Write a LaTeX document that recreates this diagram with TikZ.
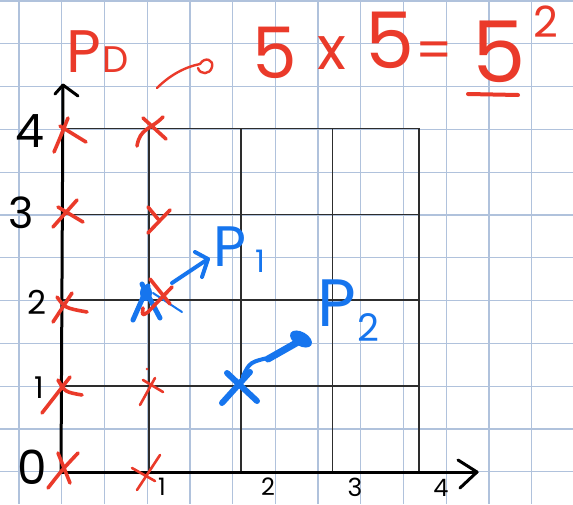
\documentclass[tikz,border=0pt]{standalone}
\usepackage{fontspec}
\setmainfont{Poppins}
\definecolor{pen}{RGB}{234,58,42}
\definecolor{ink}{RGB}{22,117,238}
\definecolor{paper}{RGB}{176,194,220}
\definecolor{frame}{RGB}{45,45,45}
\newcommand{\fsz}[1]{\fontsize{#1}{#1}\selectfont}
\begin{document}
\begin{tikzpicture}[x=1pt,y=-1pt,
  redmark/.style={draw=pen,line width=3.6pt,line cap=round,line join=round},
  thinred/.style={draw=pen,line width=2.6pt,line cap=round,line join=round},
  bluemark/.style={draw=ink,line width=5pt,line cap=round,line join=round},
  axisline/.style={draw=black,line width=3pt,line cap=round,line join=round},
  gridline/.style={draw=frame,line width=1.2pt},
  paperline/.style={draw=paper,line width=1.3pt},
  lbl/.style={inner sep=0pt,outer sep=0pt},
  axlbl/.style={lbl,text=black},
  redlbl/.style={lbl,text=pen},
  bluelbl/.style={lbl,text=ink}]
\fill[white] (0,0) rectangle (573,504);
\useasboundingbox (0,0) rectangle (573,504);
% squared paper
\foreach \k in {0,...,12} \draw[paperline] ({19+42.73*\k},0) -- ({19+42.73*\k},504);
\foreach \j in {0,...,11} \draw[paperline] (0,{1+42.8*\j}) -- (573,{1+42.8*\j});
% black grid
\foreach \yy in {128.3,214.3,300,386} \draw[gridline] (61,\yy) -- (419,\yy);
\foreach \xx in {149,241,332.7,419} \draw[gridline] (\xx,128.3) -- (\xx,472);
% axes
\coordinate (O) at (61,472);
\coordinate (ytip) at (63,85);
\coordinate (xtip) at (477,472);
\draw[axisline] (O) -- (ytip);
\draw[axisline] (55,94) -- (ytip) -- (78,96);
\draw[axisline] (O) -- (xtip);
\draw[axisline] (458,460) -- (xtip) -- (460,488);
% axis labels
\node[axlbl,font=\fsz{46}] (y4) at (30,131) {4};
\node[axlbl,font=\fsz{43}] (y3) at (21,213) {3};
\node[axlbl,font=\fsz{33}] (y2) at (37,302) {2};
\node[axlbl,font=\fsz{30}] (y1) at (39,388) {1};
\node[axlbl,font=\fsz{47}] (y0) at (32,467) {0};
\node[axlbl,font=\fsz{24}] (x1) at (162,487) {1};
\node[axlbl,font=\fsz{24}] (x2) at (268,487) {2};
\node[axlbl,font=\fsz{25}] (x3) at (355,487) {3};
\node[axlbl,font=\fsz{24}] (x4) at (441,488) {4};
% header
\node[redlbl,font=\fsz{60}] (hP) at (84,52) {P};
\node[redlbl,font=\fsz{37}] (hD) at (116,60) {D};
\draw[pen,line width=2.4pt,line cap=round] (157,88) .. controls (170,75) and (185,67) .. (200,64)
  .. controls (205,56) and (214,60) .. (212,67) .. controls (210,75) and (200,75) .. (198,68);
\node[redlbl,font=\fsz{71}] (f1) at (275,53) {5};
\node[redlbl,font=\fsz{60}] (times) at (332,53) {x};
\node[redlbl,font=\fsz{78}] (f2) at (390,40) {5};
\node[redlbl,font=\fsz{52}] (eq) at (434,55) {=};
\node[redlbl,font=\fsz{85}] (f3) at (499,52) {5};
\node[redlbl,font=\fsz{43}] (sq) at (546,22) {2};
\draw[pen,line width=4pt,line cap=round] (468,94) -- (518,95);
% red marks, column 0
\draw[redmark] (54,152) .. controls (60,138) .. (68,118) (60,126) -- (86,142);
\draw[redmark] (53,227) -- (77,200) (58,207) -- (83,222);
\draw[redmark] (53,322) -- (72,293) (57,297) .. controls (65,308) .. (87,312);
\draw[redmark] (42,413) -- (70,377) (58,380) .. controls (65,392) .. (82,395);
\draw[redmark] (48,488) .. controls (62,470) .. (78,453) (58,453) -- (70,483);
% red marks, column 1
\draw[redmark] (137,146) .. controls (140,128) and (150,130) .. (163,117) (143,118) -- (166,139);
\draw[redmark] (148,207) -- (158,219) (170,210) -- (148,233);
% blue mark at (1,2)
\fill[ink] (146,293) ellipse (6 and 8);
\draw[bluemark] (133,320) -- (148,286) (142,284) -- (160,318);
\draw[ink,line width=2pt,line cap=round] (153,293) -- (182,312);
\draw[redmark] (150,279) -- (170,304) (172,287) -- (148,312) .. controls (142,316) .. (143,308);
\draw[thinred] (140,405) -- (155,378) (143,380) -- (163,392);
\fill[pen] (147,369) circle (1.3);
\draw[thinred] (132,468) -- (155,481) (160,455) -- (137,490);
% blue arrow to P1
\coordinate (a1s) at (172,283);
\coordinate (a1e) at (208,259);
\draw[ink,line width=4pt,line cap=round] (a1s) -- (a1e);
\draw[ink,line width=4pt,line cap=round,line join=round] (195,252) -- (a1e) -- (202,277);
\node[bluelbl,font=\fsz{57}] (P1) at (230,247) {P};
\node[bluelbl,font=\fsz{31}] (P1s) at (260,261) {1};
% blue mark at (2,1) and arrow to P2
\draw[ink,line width=6pt,line cap=round] (227,373) -- (257,401) (250,372) -- (222,403);
\draw[ink,line width=4pt,line cap=round] (243,376) .. controls (250,362) .. (272,357);
\draw[ink,line width=7pt,line cap=round] (268,359) -- (298,342);
\fill[ink,rotate around={-30:(301,339)}] (301,339) ellipse (12 and 7);
\node[bluelbl,font=\fsz{67}] (P2) at (337,303) {P};
\node[bluelbl,font=\fsz{38}] (P2s) at (368,328) {2};
\end{tikzpicture}
\end{document}
